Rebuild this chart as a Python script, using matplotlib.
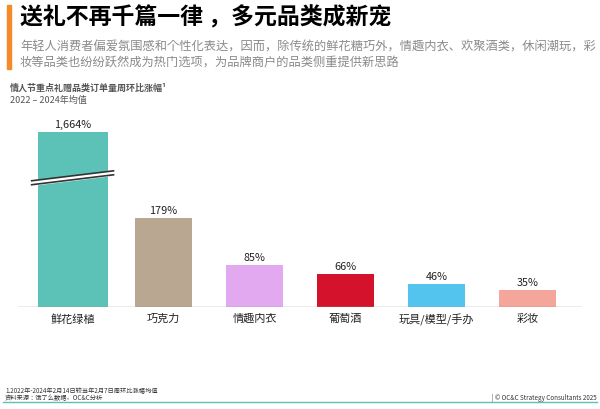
import matplotlib
matplotlib.use("Agg")
import matplotlib.pyplot as plt
from matplotlib.patches import Rectangle
from matplotlib import font_manager
import numpy as np

cjk = [f.name for f in font_manager.fontManager.ttflist if "CJK" in f.name]
fam = None
for pref in ["Noto Sans CJK SC", "Noto Sans CJK JP", "Noto Sans CJK TC", "Noto Sans CJK KR"]:
    if pref in cjk:
        fam = pref
        break
if fam is None and cjk:
    fam = cjk[0]
plt.rcParams['font.family'] = [fam] if fam else ['DejaVu Sans']
plt.rcParams['font.sans-serif'] = ([fam] if fam else []) + ['DejaVu Sans']

categories = ["鲜花绿植", "巧克力", "情趣内衣", "葡萄酒", "玩具/模型/手办", "彩妆"]
values = [1664, 179, 85, 66, 46, 35]
labels = ["1,664%", "179%", "85%", "66%", "46%", "35%"]
colors = ["#5CC1B6", "#B9A791", "#E2A9F1", "#D4122B", "#52C4EE", "#F5A69B"]
CAP = 352

W, H = 600, 410
fig = plt.figure(figsize=(6, 4.1), dpi=100)

def fy(p): return 1 - p / H
def fx(p): return p / W

fig.add_artist(Rectangle((fx(7), fy(70)), fx(4), 64 / H, color="#F58A2B", transform=fig.transFigure))
fig.text(fx(20), fy(18), "送礼不再千篇一律 ，多元品类成新宠", fontsize=16.5, fontweight="bold", va="center")
fig.text(fx(20), fy(47), "年轻人消费者偏爱氛围感和个性化表达，因而，除传统的鲜花糖巧外，情趣内衣、欢聚酒类，休闲潮玩，彩", fontsize=8.8, style="italic", color="#8A8A8A", va="center")
fig.text(fx(20), fy(62), "妆等品类也纷纷跃然成为热门选项，为品牌商户的品类侧重提供新思路", fontsize=8.8, style="italic", color="#8A8A8A", va="center")
fig.text(fx(10), fy(88), "情人节重点礼赠品类订单量周环比涨幅¹", fontsize=6.5, fontweight="bold", color="#555555", va="center")
fig.text(fx(10), fy(100), "2022 – 2024年均值", fontsize=6.5, color="#555555", va="center")

x0, x1 = 18, 582
ytop = 108
ax = fig.add_axes([fx(x0), fy(308), (x1 - x0) / W, (308 - ytop) / H])
ax.set_xlim(-0.6, 5.6)
ax.set_ylim(0, (308 - ytop) / 0.497)
ax.axis("off")

xs = list(range(len(categories)))
disp = [min(v, CAP) for v in values]
widths = [0.77] + [0.63] * 5
ax.bar(xs, disp, width=widths, color=colors, zorder=2)
ax.axhline(0, color="#9A9A9A", lw=1, zorder=3)
for x, d, l in zip(xs, disp, labels):
    ax.text(x, d + 6, l, ha="center", va="bottom", fontsize=7.8, color="#222222")
ax.fill_between([-0.45, 0.45], [246, 266], [254, 274], color="white", zorder=4)
for off in (0, 8):
    ax.plot([-0.45, 0.45], np.array([246, 266]) + off, color="#333333", lw=1.2, zorder=5)

for x, c in zip(xs, categories):
    ax.text(x, -12, c, ha="center", va="top", fontsize=8, color="#222222")

fig.text(fx(5), fy(391), "1.2022年-2024年2月14日较当年2月7日周环比涨幅均值", fontsize=4.5, color="#333333", va="center")
fig.text(fx(5), fy(398), "资料来源：饿了么数据，OC&C分析", fontsize=4.5, color="#333333", va="center")
fig.text(fx(597), fy(398), "| © OC&C Strategy Consultants 2025", fontsize=4.5, color="#333333", va="center", ha="right")
fig.add_artist(plt.Line2D([fx(3), fx(597)], [fy(403), fy(403)], color="#5CC1B6", lw=1, transform=fig.transFigure))

fig.savefig("out.png", dpi=100, facecolor="white")
